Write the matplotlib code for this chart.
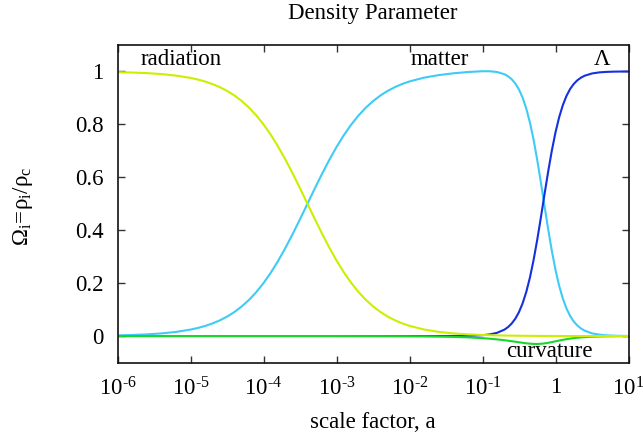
import matplotlib
matplotlib.use("Agg")
import matplotlib.pyplot as plt
import numpy as np

plt.rcParams['font.family'] = ['Liberation Serif', 'DejaVu Serif']
plt.rcParams['mathtext.fontset'] = 'custom'
plt.rcParams['mathtext.rm'] = 'Liberation Serif'
plt.rcParams['mathtext.it'] = 'Liberation Serif'
plt.rcParams['mathtext.bf'] = 'Liberation Serif:bold'
plt.rcParams['mathtext.default'] = 'rm'

# ---- data ----
log_a = [-6.0, -5.8, -5.6, -5.4, -5.2, -5.0, -4.9, -4.8, -4.7, -4.6, -4.5, -4.4,
         -4.3, -4.2, -4.1, -4.0, -3.9, -3.8, -3.7, -3.6, -3.5, -3.4, -3.3, -3.2,
         -3.1, -3.0, -2.9, -2.8, -2.7, -2.6, -2.5, -2.4, -2.3, -2.2, -2.1, -2.0,
         -1.8, -1.6, -1.4, -1.2, -1.0, -0.9, -0.8,
         -0.7, -0.65, -0.6, -0.55, -0.5, -0.45, -0.4, -0.35, -0.3, -0.25, -0.2,
         -0.15, -0.1, -0.05, 0.0, 0.05, 0.1, 0.15, 0.2, 0.25, 0.3, 0.35, 0.4,
         0.5, 0.6, 0.7, 0.8, 0.9, 1.0]

omega_radiation = [0.9975, 0.9960, 0.9938, 0.9901, 0.9845, 0.9756, 0.9695, 0.9619,
                   0.9525, 0.9409, 0.9267, 0.9095, 0.8886, 0.8638, 0.8343, 0.8000,
                   0.7606, 0.7162, 0.6671, 0.6142, 0.5585, 0.5012, 0.4438, 0.3880,
                   0.3349, 0.2857, 0.2411, 0.2015, 0.1669, 0.1373, 0.1123, 0.0914,
                   0.0739, 0.0597, 0.0480, 0.0385,
                   0.0247, 0.0157, 0.0100, 0.0063, 0.0040, 0.0032, 0.0025,
                   0.0020, 0.0018, 0.0015, 0.0014, 0.0012, 0.0010, 0.0009, 0.0007,
                   0.0006, 0.0005, 0.0004, 0.0003, 0.0002, 0.0001, 0.0001, 0.0001,
                   0.0001, 0.0, 0.0, 0.0, 0.0, 0.0, 0.0,
                   0.0, 0.0, 0.0, 0.0, 0.0, 0.0]

omega_matter = [0.0025, 0.0040, 0.0062, 0.0099, 0.0155, 0.0244, 0.0305, 0.0381,
                0.0475, 0.0591, 0.0733, 0.0905, 0.1114, 0.1362, 0.1657, 0.2000,
                0.2394, 0.2838, 0.3329, 0.3858, 0.4415, 0.4988, 0.5562, 0.6120,
                0.6651, 0.7143, 0.7589, 0.7985, 0.8331, 0.8627, 0.8877, 0.9089,
                0.9264, 0.9408, 0.9527, 0.9623,
                0.9766, 0.9862, 0.9930, 0.9979, 1.0009, 1.0008, 0.9979,
                0.9896, 0.9819, 0.9706, 0.9544, 0.9316, 0.9006, 0.8595, 0.8067,
                0.7416, 0.6651, 0.5801, 0.4910, 0.4031, 0.3216, 0.2500, 0.1901,
                0.1420, 0.1045, 0.0761, 0.0550, 0.0395, 0.0283, 0.0202,
                0.0102, 0.0051, 0.0026, 0.0013, 0.0007, 0.0003]

omega_lambda = [0.0, 0.0, 0.0, 0.0, 0.0, 0.0, 0.0, 0.0, 0.0, 0.0, 0.0, 0.0,
                0.0, 0.0, 0.0, 0.0, 0.0, 0.0, 0.0, 0.0, 0.0, 0.0, 0.0, 0.0,
                0.0, 0.0, 0.0, 0.0, 0.0, 0.0, 0.0, 0.0, 0.0, 0.0, 0.0, 0.0,
                0.0, 0.0, 0.0002, 0.0008, 0.0031, 0.0062, 0.0122,
                0.0242, 0.0339, 0.0474, 0.0658, 0.0907, 0.1239, 0.1670, 0.2214,
                0.2876, 0.3643, 0.4488, 0.5366, 0.6223, 0.7012, 0.7700, 0.8269,
                0.8723, 0.9073, 0.9336, 0.9528, 0.9668, 0.9768, 0.9839,
                0.9924, 0.9965, 0.9984, 0.9993, 0.9997, 0.9998]

omega_curvature = [0.0, 0.0, 0.0, 0.0, 0.0, 0.0, 0.0, 0.0, 0.0, 0.0, 0.0, 0.0,
                   0.0, 0.0, 0.0, 0.0, 0.0, 0.0, 0.0, 0.0, 0.0, 0.0, 0.0, 0.0,
                   0.0, 0.0, -0.0001, -0.0001, -0.0002, -0.0002, -0.0003, -0.0003,
                   -0.0004, -0.0005, -0.0006, -0.0008,
                   -0.0012, -0.0020, -0.0032, -0.0050, -0.0080, -0.0101, -0.0127,
                   -0.0158, -0.0176, -0.0195, -0.0215, -0.0236, -0.0256, -0.0274,
                   -0.0288, -0.0297, -0.0299, -0.0293, -0.0278, -0.0256, -0.0229,
                   -0.0200, -0.0171, -0.0143, -0.0118, -0.0097, -0.0078, -0.0063,
                   -0.0051, -0.0041,
                   -0.0026, -0.0016, -0.0010, -0.0007, -0.0004, -0.0003]

x_ticks = [1e-6, 1e-5, 1e-4, 1e-3, 1e-2, 1e-1, 1, 10]
x_tick_labels = ['10$^{\u2010' + '6}$', '10$^{\u2010' + '5}$',
                 '10$^{\u2010' + '4}$', '10$^{\u2010' + '3}$',
                 '10$^{\u2010' + '2}$', '10$^{\u2010' + '1}$',
                 '1', '10$^{1}$']
y_ticks = [0, 0.2, 0.4, 0.6, 0.8, 1.0]
y_tick_labels = ['0', '0.2', '0.4', '0.6', '0.8', '1']

# ---- figure ----
W, H = 643, 437
fig = plt.figure(figsize=(W / 100, H / 100), dpi=100)
L, R, T, B = 117.5, 628.5, 45, 362.5
ax = fig.add_axes([L / W, 1 - B / H, (R - L) / W, (B - T) / H])

a = 10 ** np.array(log_a)
lw = 1.5
kw = dict(lw=lw, solid_joinstyle='round', solid_capstyle='round')
ax.plot(a, omega_matter, color='#3ecbf7', **kw)
ax.plot(a, omega_lambda, color='#1530e0', **kw)
ax.plot(a, omega_curvature, color='#19d62a', **kw)
ax.plot(a, omega_radiation, color='#cdee00', **kw)

ax.set_xscale('log')
ax.set_xlim(1e-6, 10)
ax.set_ylim(-0.1, 1.1)
ax.set_xticks(x_ticks)
ax.set_xticklabels(x_tick_labels)
ax.xaxis.set_minor_locator(matplotlib.ticker.NullLocator())
ax.set_yticks(y_ticks)
ax.set_yticklabels(y_tick_labels)

fs = 16.5
ax.tick_params(which='both', direction='in', top=True, right=True,
               length=5, width=1.0, color='#333333', labelsize=fs)
ax.tick_params(axis='x', pad=10.5)
ax.tick_params(axis='y', pad=10)
for s in ax.spines.values():
    s.set_linewidth(1.2)
    s.set_color('#111111')

ax.text(7.4e-6, 1.045, 'radiation', fontsize=fs, ha='center', va='center')
ax.text(0.026, 1.045, 'matter', fontsize=fs, ha='center', va='center')
ax.text(4.34, 1.045, 'Λ', fontsize=fs, ha='center', va='center')
ax.text(0.815, -0.057, 'curvature', fontsize=fs, ha='center', va='center')

fig.text(373 / W, 1 - 14 / H, 'Density Parameter', fontsize=fs,
         ha='center', va='center')
fig.text(373 / W, 1 - 423 / H, 'scale factor, a', fontsize=fs,
         ha='center', va='center')
fig.text(23 / W, 1 - 206 / H, r'$\Omega_i\!=\!\rho_i/\rho_c$', fontsize=fs,
         ha='center', va='center', rotation=90)

fig.savefig('out.png', dpi=100)
